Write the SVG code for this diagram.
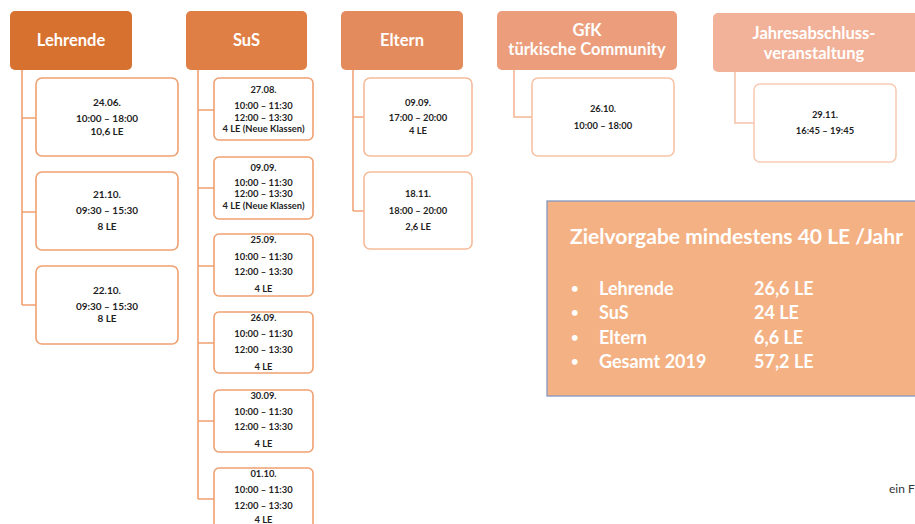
<svg xmlns="http://www.w3.org/2000/svg" width="915" height="524" viewBox="0 0 915 524">
<style>
.hd{font-family:Lato,"Open Sans",sans-serif;font-weight:bold;font-size:16.5px;fill:#fff;text-anchor:middle}
.bx{fill:#fff;stroke-width:1.6}
.t{font-family:Lato,"Open Sans",sans-serif;font-weight:bold;font-size:10px;fill:#1F1F1F;text-anchor:middle}
.t2{font-family:Lato,"Open Sans",sans-serif;font-weight:bold;font-size:9.4px;fill:#1F1F1F;text-anchor:middle}
.c{fill:none;stroke-width:1.6}
.big{font-family:Lato,"Open Sans",sans-serif;font-weight:bold;fill:#fff}
.bul{font-family:Lato,"Open Sans",sans-serif;font-weight:bold;fill:#fff;font-size:13px}
</style>
<rect width="915" height="524" fill="#fff"/>
<g id="connectors">
<path class="c" stroke="#F0A070" d="M22,70V305M22,118H36M22,212H36M22,305H36"/>
<path class="c" stroke="#F0A070" d="M198,70V499M198,110H214M198,188H214M198,266H214M198,343H214M198,421H214M198,499H214"/>
<path class="c" stroke="#F2A57A" d="M353,70V211M353,117H364M353,211H364"/>
<path class="c" stroke="#F4B795" d="M514,70V117H532"/>
<path class="c" stroke="#F7C4AA" d="M735,72V123H754"/>
</g>
<g id="h-lehrende"><rect x="10" y="11" width="122" height="59" rx="5" fill="#D7712F"/><text class="hd" x="71" y="46">Lehrende</text></g>
<g id="h-sus"><rect x="186" y="11" width="121" height="59" rx="5" fill="#E07F45"/><text class="hd" x="246.5" y="46">SuS</text></g>
<g id="h-eltern"><rect x="341" y="11" width="122" height="59" rx="5" fill="#E48B5D"/><text class="hd" x="402" y="46">Eltern</text></g>
<g id="h-gfk"><rect x="497" y="11" width="180" height="59" rx="5" fill="#EC9E7C"/><text class="hd" x="587" y="36">GfK</text><text class="hd" x="587" y="55">türkische Community</text></g>
<g id="h-jahr"><rect x="713" y="13" width="210" height="59" rx="5" fill="#F2B29A"/><text class="hd" x="814" y="39">Jahresabschluss-</text><text class="hd" x="814" y="59">veranstaltung</text></g>

<g id="l1"><rect class="bx" stroke="#F0A070" x="36" y="78" width="142" height="78" rx="6"/><text class="t" x="107" y="106">24.06.</text><text class="t" x="107" y="122">10:00 – 18:00</text><text class="t" x="107" y="135">10,6 LE</text></g>
<g id="l2"><rect class="bx" stroke="#F0A070" x="36" y="172" width="142" height="78" rx="6"/><text class="t" x="107" y="198">21.10.</text><text class="t" x="107" y="214">09:30 – 15:30</text><text class="t" x="107" y="230">8 LE</text></g>
<g id="l3"><rect class="bx" stroke="#F0A070" x="36" y="266" width="142" height="78" rx="6"/><text class="t" x="107" y="294">22.10.</text><text class="t" x="107" y="310">09:30 – 15:30</text><text class="t" x="107" y="322">8 LE</text></g>

<g id="s1"><rect class="bx" stroke="#F0A070" x="214" y="78" width="99" height="62" rx="5"/><text class="t2" x="263.5" y="93">27.08.</text><text class="t2" x="263.5" y="109">10:00 – 11:30</text><text class="t2" x="263.5" y="121">12:00 – 13:30</text><text class="t2" x="263.5" y="132">4 LE (Neue Klassen)</text></g>
<g id="s2"><rect class="bx" stroke="#F0A070" x="214" y="157" width="99" height="62" rx="5"/><text class="t2" x="263.5" y="171">09.09.</text><text class="t2" x="263.5" y="186">10:00 – 11:30</text><text class="t2" x="263.5" y="197">12:00 – 13:30</text><text class="t2" x="263.5" y="209">4 LE (Neue Klassen)</text></g>
<g id="s3"><rect class="bx" stroke="#F0A070" x="214" y="234" width="99" height="62" rx="5"/><text class="t2" x="263.5" y="243">25.09.</text><text class="t2" x="263.5" y="260">10:00 – 11:30</text><text class="t2" x="263.5" y="275">12:00 – 13:30</text><text class="t2" x="263.5" y="292">4 LE</text></g>
<g id="s4"><rect class="bx" stroke="#F0A070" x="214" y="312" width="99" height="61" rx="5"/><text class="t2" x="263.5" y="321">26.09.</text><text class="t2" x="263.5" y="337">10:00 – 11:30</text><text class="t2" x="263.5" y="353">12:00 – 13:30</text><text class="t2" x="263.5" y="370">4 LE</text></g>
<g id="s5"><rect class="bx" stroke="#F0A070" x="214" y="390" width="99" height="62" rx="5"/><text class="t2" x="263.5" y="399">30.09.</text><text class="t2" x="263.5" y="415">10:00 – 11:30</text><text class="t2" x="263.5" y="430">12:00 – 13:30</text><text class="t2" x="263.5" y="447">4 LE</text></g>
<g id="s6"><rect class="bx" stroke="#F0A070" x="214" y="468" width="99" height="62" rx="5"/><text class="t2" x="263.5" y="477">01.10.</text><text class="t2" x="263.5" y="493">10:00 – 11:30</text><text class="t2" x="263.5" y="509">12:00 – 13:30</text><text class="t2" x="263.5" y="523">4 LE</text></g>

<g id="e1"><rect class="bx" stroke="#F6BB9A" x="364" y="78" width="108" height="78" rx="6"/><text class="t2" x="418" y="106">09.09.</text><text class="t2" x="418" y="121">17:00 – 20:00</text><text class="t2" x="418" y="134">4 LE</text></g>
<g id="e2"><rect class="bx" stroke="#F6BB9A" x="364" y="172" width="108" height="77" rx="6"/><text class="t2" x="418" y="197">18.11.</text><text class="t2" x="418" y="214">18:00 – 20:00</text><text class="t2" x="418" y="230">2,6 LE</text></g>

<g id="g1"><rect class="bx" stroke="#F7C2A6" x="532" y="78" width="142" height="78" rx="6"/><text class="t2" x="603" y="112">26.10.</text><text class="t2" x="603" y="129">10:00 – 18:00</text></g>
<g id="j1"><rect class="bx" stroke="#F8CBB4" x="754" y="84" width="142" height="78" rx="6"/><text class="t2" x="825" y="118">29.11.</text><text class="t2" x="825" y="134">16:45 – 19:45</text></g>

<g id="summary">
<rect x="547" y="201" width="380" height="195" fill="#F4B183" stroke="#8497C0" stroke-width="1.3"/>
<text class="big" x="570" y="244" font-size="21" textLength="333" lengthAdjust="spacingAndGlyphs">Zielvorgabe mindestens 40 LE /Jahr</text>
<text class="bul" x="571" y="293">•</text><text class="bul" x="571" y="317">•</text><text class="bul" x="571" y="342">•</text><text class="bul" x="571" y="366">•</text>
<g font-size="18" class="big">
<text x="599" y="295">Lehrende</text><text x="754" y="295">26,6 LE</text>
<text x="599" y="319">SuS</text><text x="754" y="319">24 LE</text>
<text x="599" y="344">Eltern</text><text x="754" y="344">6,6 LE</text>
<text x="599" y="368">Gesamt 2019</text><text x="754" y="368">57,2 LE</text>
</g>
</g>
<text x="889" y="493" font-family="Lato,'Open Sans',sans-serif" font-size="12" fill="#333">ein F</text>
</svg>
